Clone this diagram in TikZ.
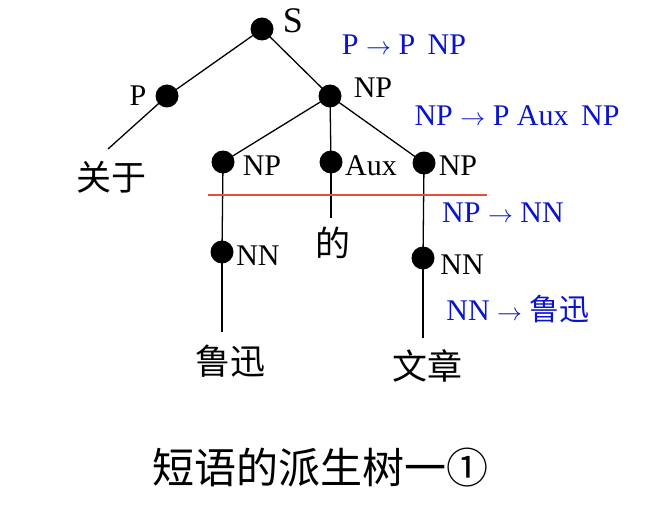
\documentclass[tikz,border=0pt]{standalone}
\usepackage{fontspec}
\setmainfont{Liberation Serif}
\newfontfamily\cjk{Noto Sans CJK SC}
\definecolor{ruleblue}{RGB}{10,20,200}
\definecolor{cutred}{RGB}{225,80,60}
\tikzset{
  dot/.style={circle,fill=black,minimum size=23pt,inner sep=0pt},
  lab/.style={font=\fontsize{30}{33}\selectfont,inner sep=0pt},
  word/.style={font=\cjk\fontsize{35}{38}\selectfont,inner sep=0pt},
  rulelab/.style={font=\fontsize{30}{33}\selectfont,text=ruleblue,inner sep=0pt},
  edge/.style={line width=1.3pt},
}
\begin{document}
\begin{tikzpicture}[x=1pt,y=-1pt]
\useasboundingbox (0,0) rectangle (658,508);
% dots
\node[dot] (s) at (262,29) {};
\node[dot] (p) at (167,96) {};
\node[dot] (np) at (330,96) {};
\node[dot] (npl) at (223,162) {};
\node[dot] (aux) at (331,162) {};
\node[dot] (npr) at (424,163) {};
\node[dot] (nnl) at (222,252) {};
\node[dot] (nnr) at (423,258) {};
% labels
\node[lab,font=\fontsize{36}{38}\selectfont] (ls) at (293,21) {S};
\node[lab] (lp) at (138,96) {P};
\node[lab] (lnp) at (373,88) {NP};
\node[lab] (lnpl) at (262,166) {NP};
\node[lab] (laux) at (371,166) {Aux};
\node[lab] (lnpr) at (458,166) {NP};
\node[lab] (lnnl) at (258,256) {NN};
\node[lab] (lnnr) at (462,265) {NN};
% words
\node[word] (w1) at (111,177) {关于};
\node[word] (w2) at (333,243) {的};
\node[word] (w3) at (230,361) {鲁迅};
\node[word] (w4) at (427,366) {文章};
\coordinate (e1) at (108,149);
\coordinate (e2) at (331,218);
\coordinate (e3) at (222,332);
\coordinate (e4) at (423,338);
% edges
\draw[edge] (s.center) -- (p.center);
\draw[edge] (s.center) -- (np.center);
\draw[edge] (p.center) -- (e1);
\draw[edge] (np.center) -- (npl.center);
\draw[edge] (np.center) -- (aux.center);
\draw[edge] (np.center) -- (npr.center);
\draw[edge] (npl.center) -- (nnl.center);
\draw[edge] (nnl.center) -- (e3);
\draw[edge] (aux.center) -- (e2);
\draw[edge] (npr.center) -- (nnr.center);
\draw[edge] (nnr.center) -- (e4);
% cut line
\coordinate (c1) at (208,195);
\coordinate (c2) at (487,195);
\draw[cutred,line width=2.4pt] (c1) -- (c2);
% rules
\node[rulelab] (r1) at (404,45) {P $\rightarrow$ P\, NP};
\node[rulelab] (r2) at (517,116) {NP $\rightarrow$ P Aux\, NP};
\node[rulelab] (r3) at (503,213) {NP $\rightarrow$ NN};
\node[rulelab] (r4) at (518,309) {NN $\rightarrow$ {\cjk 鲁迅}};
% caption
\node[font=\cjk\fontsize{42}{46}\selectfont,inner sep=0pt] (cap) at (320,468) {短语的派生树一①};
\end{tikzpicture}
\end{document}
